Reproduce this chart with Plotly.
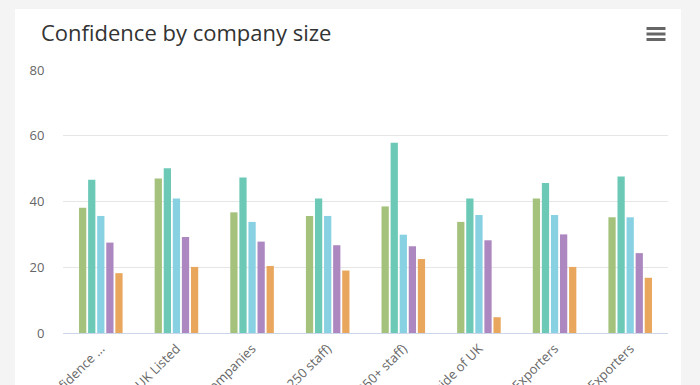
import plotly.graph_objects as go

categories = [
    "Overall confidence ...",
    "All UK Listed",
    "Small companies",
    "Medium (50-250 staff)",
    "Large (250+ staff)",
    "Outside of UK",
    "Non-Exporters",
    "All Exporters",
]
series_names = ["Series 1", "Series 2", "Series 3", "Series 4", "Series 5"]
series_values = [
    [38.1, 47.0, 36.7, 35.6, 38.5, 33.8, 40.9, 35.2],
    [46.6, 50.1, 47.3, 40.9, 57.9, 40.9, 45.6, 47.6],
    [35.6, 40.9, 33.8, 35.6, 29.9, 35.9, 35.9, 35.2],
    [27.5, 29.2, 27.8, 26.7, 26.4, 28.2, 30.0, 24.3],
    [18.2, 20.1, 20.4, 19.0, 22.5, 4.8, 20.1, 16.8],
]
colors = ["#a4c27c", "#6cc9b6", "#88d1e2", "#ad88c0", "#e9a75e"]
y_ticks = [0, 20, 40, 60, 80]

W, H = 700, 385
L, R, T, B = 63, 32, 70, 52
pw, ph = W - L - R, H - T - B


def px_x(x):
    return (x - L) / pw


def px_y(y):
    return (H - B - y) / ph


fig = go.Figure()
for name, vals, col in zip(series_names, series_values, colors):
    fig.add_trace(go.Bar(x=categories, y=vals, name=name, marker_color=col,
                         marker_line_width=0))

shapes = [
    dict(type="rect", xref="paper", yref="paper", layer="below",
         x0=px_x(15), x1=px_x(681), y0=px_y(420), y1=px_y(9),
         fillcolor="white", line_width=0),
]
for yy in (28.5, 34, 39.5):
    shapes.append(dict(type="line", xref="paper", yref="paper",
                       x0=px_x(646.5), x1=px_x(665.5), y0=px_y(yy), y1=px_y(yy),
                       line=dict(color="#666666", width=3)))

fig.update_layout(
    width=W, height=H,
    margin=dict(l=L, r=R, t=T, b=B, autoexpand=False),
    paper_bgcolor="#f4f4f4",
    plot_bgcolor="white",
    barmode="group", bargap=0.4, bargroupgap=0.2,
    showlegend=False,
    font=dict(family="Open Sans", color="#666666"),
    title=dict(text="Confidence by company size", xref="container", yref="container",
               x=41 / W, xanchor="left", y=1 - 33 / H, yanchor="middle",
               font=dict(family="Open Sans", size=22, color="#333333")),
    shapes=shapes,
    xaxis=dict(tickangle=-45, tickfont=dict(size=13, color="#666666"),
               showline=True, linecolor="#ccd6eb", linewidth=1,
               ticks="outside", ticklen=2, tickcolor="rgba(0,0,0,0)",
               automargin=False, showgrid=False),
    yaxis=dict(range=[0, 80], tickvals=y_ticks, showgrid=True, gridcolor="#e6e6e6",
               zeroline=False, ticks="outside", ticklen=15, tickcolor="rgba(0,0,0,0)",
               tickfont=dict(size=13, color="#666666"), automargin=False),
)

fig.write_html(
    "out.html",
    config={"displayModeBar": False},
    post_script="document.body.style.margin='0';document.body.style.overflow='hidden';"
                "document.body.style.background='#f4f4f4';",
)
